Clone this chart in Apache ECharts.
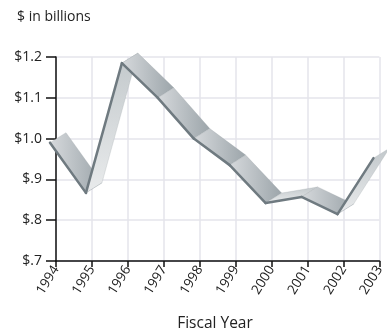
<!DOCTYPE html>
<html><head><meta charset="utf-8">
<script src="https://cdn.jsdelivr.net/npm/echarts@6/dist/echarts.min.js"></script>
<style>html,body{margin:0;padding:0;background:#fff;}#c{width:387px;height:332px;}</style>
</head><body><div id="c"></div>
<script>
var years = ['1994','1995','1996','1997','1998','1999','2000','2001','2002','2003'];
var values = [0.99, 0.867, 1.185, 1.10, 1.0, 0.935, 0.842, 0.857, 0.815, 0.952];
var yTicks = ['$.7','$.8','$.9','$1.0','$1.1','$1.2'];
var yTickValues = [0.7, 0.8, 0.9, 1.0, 1.1, 1.2];

var FRONT_DX = -6, DEPTH_X = 16, DEPTH_Y = -10;
var segData = [];
for (var i = 0; i < values.length - 1; i++) segData.push([i, values[i], values[i + 1]]);

function front(api, idx, v) {
  var p = api.coord([idx, v]);
  return [p[0] + FRONT_DX, p[1]];
}

var chart = echarts.init(document.getElementById('c'), null, {renderer: 'canvas'});
chart.setOption({
  animation: false,
  grid: {left: 56, right: 5, top: 57, bottom: 71},
  title: [
    {text: '$ in billions', left: 12, top: 5, textStyle: {fontFamily: 'Open Sans', fontSize: 14, fontWeight: 'normal', color: '#222'}},
    {text: 'Fiscal Year', left: 210, top: 311, textAlign: 'center', textStyle: {fontFamily: 'Open Sans', fontSize: 15.5, fontWeight: 'normal', color: '#222'}}
  ],
  xAxis: {
    type: 'category', data: years, boundaryGap: false,
    axisLine: {lineStyle: {color: '#111', width: 1.5}},
    axisTick: {alignWithLabel: true, length: 6, lineStyle: {color: '#111', width: 1.5}},
    axisLabel: {rotate: 58, fontFamily: 'Open Sans', fontSize: 13.5, color: '#222', margin: 6},
    splitLine: {show: true, lineStyle: {color: '#e5e5eb', width: 1.5}}
  },
  yAxis: {
    type: 'value', min: 0.7, max: 1.2, interval: 0.1,
    axisLine: {show: true, lineStyle: {color: '#111', width: 1.5}},
    axisTick: {show: true, length: 10, lineStyle: {color: '#111', width: 1.5}},
    axisLabel: {fontFamily: 'Open Sans', fontSize: 14, color: '#222', margin: 14,
      formatter: function (v) {
        for (var k = 0; k < yTickValues.length; k++) if (Math.abs(yTickValues[k] - v) < 1e-6) return yTicks[k];
        return '';
      }},
    splitLine: {show: true, lineStyle: {color: '#e5e5eb', width: 1.5}}
  },
  series: [
    {
      type: 'custom', z: 3, clip: false,
      data: segData,
      encode: {x: 0, y: [1, 2]},
      renderItem: function (params, api) {
        var i = api.value(0);
        var a = front(api, i, api.value(1));
        var b = front(api, i + 1, api.value(2));
        var a2 = [a[0] + DEPTH_X, a[1] + DEPTH_Y];
        var b2 = [b[0] + DEPTH_X, b[1] + DEPTH_Y];
        var up = b[1] < a[1] - 2;
        var grad = up ?
          new echarts.graphic.LinearGradient(0, 1, 0, 0, [{offset: 0, color: '#e9ebec'}, {offset: 1, color: '#c2c8cb'}]) :
          new echarts.graphic.LinearGradient(0, 0, 1, 0, [{offset: 0, color: '#d6d9dc'}, {offset: 1, color: '#9ca5aa'}]);
        return {
          type: 'polygon',
          shape: {points: [a, b, b2, a2]},
          style: {fill: grad, stroke: 'rgba(150,158,163,0.5)', lineWidth: 0.5}
        };
      }
    },
    {
      type: 'custom', z: 4, clip: false,
      data: segData,
      encode: {x: 0, y: [1, 2]},
      renderItem: function (params, api) {
        var i = api.value(0);
        var a = front(api, i, api.value(1));
        var b = front(api, i + 1, api.value(2));
        return {
          type: 'line',
          shape: {x1: a[0], y1: a[1], x2: b[0], y2: b[1]},
          style: {stroke: '#6f7a80', lineWidth: 2.5, lineCap: 'round'}
        };
      }
    }
  ]
});
</script></body></html>
